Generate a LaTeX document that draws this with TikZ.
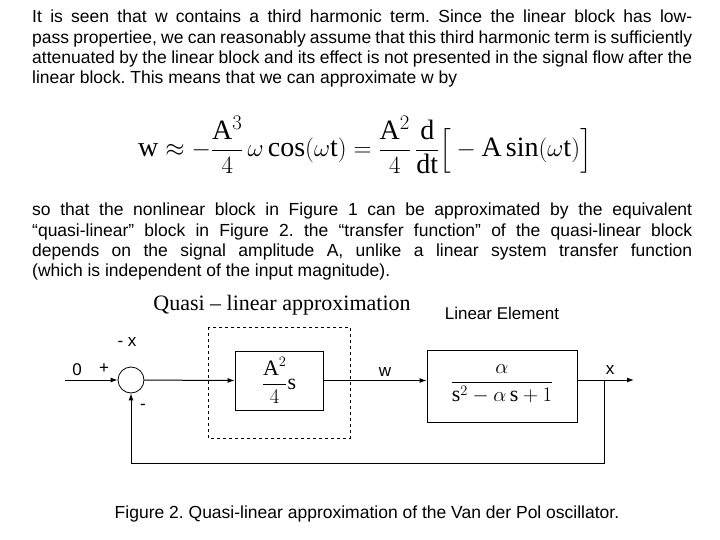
\documentclass[tikz,border=0pt]{standalone}
\usepackage{amsmath}
\usepackage{fontspec}
\setmainfont{Liberation Serif}
\setsansfont{Liberation Sans}
\newfontfamily\serifA{Liberation Serif}
\usetikzlibrary{arrows.meta}
\newcommand\mr[1]{\mbox{\serifA #1}}
\newcommand\nohy{\lefthyphenmin=62\righthyphenmin=62\relax}
\frenchspacing
\begin{document}
\begin{tikzpicture}[x=1pt,y=-1pt,
  para/.style={anchor=north west,text width=660pt,align=justify,inner sep=0pt,font=\sffamily\fontsize{17.5}{20.3}\selectfont},
  lbl/.style={font=\sffamily\fontsize{17}{18}\selectfont,inner sep=0pt},
  blk/.style={draw,line width=0.8pt},
  sig/.style={line width=1pt,-{Latex[length=7pt,width=5pt]}}]
\useasboundingbox (0,0) rectangle (720,540);
\node[para] (p1) at (32,10) {\nohy It is seen that w contains a third harmonic term. Since the linear block has low-\linebreak pass propertiee, we can reasonably assume that this third harmonic term is sufficiently attenuated by the linear block and its effect is not presented in the signal flow after the linear block. This means that we can approximate w by};
\node[inner sep=0pt,font=\fontsize{28}{32}\selectfont] (eq) at (365,145) {$\mr{w}\approx-\dfrac{\mr{A}^3}{4}\,\omega\,\mr{cos}(\omega \mr{t})=\dfrac{\mr{A}^2}{4}\,\dfrac{\mr{d}}{\mr{dt}}\Big[-\mr{A}\,\mr{sin}(\omega \mr{t})\Big]$};
\node[para] (p2) at (32,203) {\nohy so that the nonlinear block in Figure 1 can be approximated by the equivalent \mbox{``quasi-linear''} block in Figure 2. the ``transfer function'' of the quasi-linear block\linebreak depends on the signal amplitude A, unlike a linear system transfer function\linebreak (which is independent of the input magnitude).};
% diagram
\node[draw,circle,minimum size=26pt,inner sep=0pt,line width=0.8pt] (sum) at (131,380) {};
\coordinate (in) at (65,380);
\draw[draw,dashed,line width=0.6pt] (208,327) rectangle (350,438);
\node[blk,minimum width=88pt,minimum height=59pt] (g) at (279,380.5) {\fontsize{22}{24}\selectfont $\dfrac{\mr{A}^2}{4}\mr{s}$};
\node[blk,minimum width=150pt,minimum height=72pt] (lin) at (502,386) {};
\node[font=\fontsize{22}{24}\selectfont] (tf) at (502,384) {$\dfrac{\alpha}{\mr{s}^2-\alpha\,\mr{s}+1}$};
\coordinate (out) at (634,380);
\coordinate (br) at (604,380);
\coordinate (bl) at (604,463);
\coordinate (bb) at (131,463);
\draw[sig] (in) -- (sum);
\draw[sig] (sum) -- (g.west);
\draw[sig] (g.east) -- (lin.west |- g.east);
\draw[sig] (lin.east |- br) -- (out);
\draw[sig] (br) -- (bl) -- (bb) -- (sum.south);
\node[font=\fontsize{22}{24}\selectfont] (t1) at (282,305) {Quasi -- linear approximation};
\node[lbl] (t2) at (502,313) {Linear Element};
\node[lbl] (t3) at (127,342) {- x};
\node[lbl] (t4) at (77,370) {0};
\node[lbl] (t5) at (104,369) {+};
\node[lbl] (t6) at (143,407) {-};
\node[lbl] (t7) at (385,372) {w};
\node[lbl] (t8) at (610,370) {x};
\node[lbl,font=\sffamily\fontsize{17.5}{18}\selectfont] (cap) at (367,514) {Figure 2. Quasi-linear approximation of the Van der Pol oscillator.};
\end{tikzpicture}
\end{document}
